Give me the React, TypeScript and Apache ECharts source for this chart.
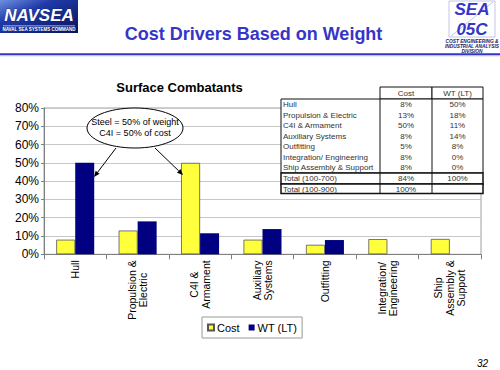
import React, { useEffect, useRef } from "react";
import * as echarts from "echarts";

const categories = [
  "Hull",
  "Propulsion &\nElectric",
  "C4I &\nArmament",
  "Auxiliary\nSystems",
  "Outfitting",
  "Integration/\nEngineering",
  "Ship\nAssembly &\nSupport",
];
const costValues = [8, 13, 50, 8, 5.2, 8.3, 8.4];
const wtValues = [50, 18, 11.5, 13.8, 7.8, 0, 0];
const yTicks = { min: 0, max: 80, interval: 10 };

const tableLabels = [
  "Hull",
  "Propulsion & Electric",
  "C4I & Armament",
  "Auxiliary Systems",
  "Outfitting",
  "Integration/ Engineering",
  "Ship Assembly & Support",
];
const tableCost = ["8%", "13%", "50%", "8%", "5%", "8%", "8%"];
const tableWT = ["50%", "18%", "11%", "14%", "8%", "0%", "0%"];
const tableHeaders = ["Cost", "WT (LT)"];
const totalRows = [
  ["Total (100-700)", "84%", "100%"],
  ["Total (100-900)", "100%", ""],
];

const FONT = "'Liberation Sans', Arial, Helvetica, sans-serif";
const BLUE = "#3535c8";

function buildTable(): any[] {
  const els: any[] = [];
  const x0 = 281, x1 = 380, x2 = 432, x3 = 483;
  const yH = 87, yB = 99, rowH = 10.5;
  const yT1 = yB + rowH * 7 + 0.5;
  const yT2 = yT1 + 11;
  const yEnd = yT2 + 9.5;
  const stroke = { stroke: "#111", lineWidth: 1 };
  const txt = (x: number, y: number, t: string, align: string) => ({
    type: "text", x, y,
    style: { text: t, font: `8px ${FONT}`, fill: "#333", align, verticalAlign: "middle" },
  });
  els.push({ type: "rect", shape: { x: x1, y: yH, width: x2 - x1, height: yB - yH }, style: { fill: "#fff", ...stroke } });
  els.push({ type: "rect", shape: { x: x2, y: yH, width: x3 - x2, height: yB - yH }, style: { fill: "#fff", ...stroke } });
  els.push(txt((x1 + x2) / 2, (yH + yB) / 2, tableHeaders[0], "center"));
  els.push(txt((x2 + x3) / 2, (yH + yB) / 2, tableHeaders[1], "center"));
  els.push({ type: "rect", shape: { x: x0, y: yB, width: x3 - x0, height: yT1 - yB }, style: { fill: "#fff", ...stroke } });
  tableLabels.forEach((lab, i) => {
    const cy = yB + rowH * i + rowH / 2 + 0.3;
    els.push(txt(x0 + 2, cy, lab, "left"));
    els.push(txt((x1 + x2) / 2, cy, tableCost[i], "center"));
    els.push(txt((x2 + x3) / 2, cy, tableWT[i], "center"));
  });
  els.push({ type: "rect", shape: { x: x0, y: yT1, width: x3 - x0, height: yT2 - yT1 }, style: { fill: "#fff", stroke: "#111", lineWidth: 1.5 } });
  els.push({ type: "rect", shape: { x: x0, y: yT2, width: x3 - x0, height: yEnd - yT2 }, style: { fill: "#fff", stroke: "#111", lineWidth: 1.5 } });
  els.push({ type: "line", shape: { x1: x1, y1: yB, x2: x1, y2: yEnd }, style: stroke });
  els.push({ type: "line", shape: { x1: x2, y1: yB, x2: x2, y2: yEnd }, style: stroke });
  totalRows.forEach((row, i) => {
    const cy = i === 0 ? (yT1 + yT2) / 2 + 0.3 : (yT2 + yEnd) / 2 + 0.3;
    els.push(txt(x0 + 2, cy, row[0], "left"));
    els.push(txt((x1 + x2) / 2, cy, row[1], "center"));
    if (row[2]) els.push(txt((x2 + x3) / 2, cy, row[2], "center"));
  });
  return els;
}

function arrow(fx: number, fy: number, tx: number, ty: number): any[] {
  const dx = tx - fx, dy = ty - fy;
  const len = Math.sqrt(dx * dx + dy * dy);
  const ux = dx / len, uy = dy / len;
  const bx = tx - ux * 6, by = ty - uy * 6;
  const px = -uy * 2.5, py = ux * 2.5;
  return [
    { type: "line", shape: { x1: fx, y1: fy, x2: bx, y2: by }, style: { stroke: "#000", lineWidth: 1 }, z: 100 },
    { type: "polygon", shape: { points: [[tx, ty], [bx + px, by + py], [bx - px, by - py]] }, style: { fill: "#000" }, z: 100 },
  ];
}

export default function App() {
  const ref = useRef<HTMLDivElement>(null);
  useEffect(() => {
    if (!ref.current) return;
    const chart = echarts.init(ref.current, null, { renderer: "svg" });
    const option: any = {
      animation: false,
      backgroundColor: "#fff",
      textStyle: { fontFamily: FONT },
      grid: {
        left: 44,
        right: 19,
        top: 108,
        bottom: 115.7,
        show: true,
        borderColor: "#a0a0a0",
        borderWidth: 1,
      },
      legend: {
        data: ["Cost", "WT (LT)"],
        left: 202,
        top: 317,
        icon: "rect",
        itemWidth: 6,
        itemHeight: 6,
        itemGap: 9,
        padding: [5, 5, 5, 5],
        borderColor: "#999",
        borderWidth: 1,
        textStyle: { fontSize: 11, color: "#000", fontFamily: FONT, padding: [0, 0, 0, -2] },
      },
      xAxis: {
        type: "category",
        data: categories,
        axisLine: { lineStyle: { color: "#808080" } },
        axisTick: { show: true, length: 5, lineStyle: { color: "#808080" } },
        axisLabel: {
          rotate: 90,
          margin: 6,
          interval: 0,
          color: "#000",
          fontSize: 10.5,
          formatter: (v: string) => v.split("\n").map((s) => `{c|${s}}`).join("\n"),
          rich: { c: { align: "center", fontSize: 10.5, lineHeight: 11.5, color: "#000", fontFamily: FONT } },
        },
      },
      yAxis: {
        type: "value",
        min: yTicks.min,
        max: yTicks.max,
        interval: yTicks.interval,
        axisLine: { show: true, lineStyle: { color: "#808080" } },
        axisTick: { show: true, length: 3, lineStyle: { color: "#808080" } },
        axisLabel: { formatter: "{value}%", color: "#000", fontSize: 12, margin: 5, fontFamily: FONT },
        splitLine: { lineStyle: { color: "#c8c8c8" } },
      },
      series: [
        {
          name: "Cost",
          type: "bar",
          data: costValues,
          barWidth: 19,
          barGap: "0%",
          itemStyle: { color: "#ffff3c", borderColor: "#555", borderWidth: 0.8 },
        },
        {
          name: "WT (LT)",
          type: "bar",
          data: wtValues,
          barWidth: 19,
          itemStyle: { color: "#000080", borderWidth: 0 },
        },
      ],
      graphic: [
        {
          type: "rect",
          shape: { x: 0, y: 0, width: 78, height: 33 },
          style: {
            fill: new echarts.graphic.LinearGradient(0, 0, 1, 1, [
              { offset: 0, color: "#6f8fe0" },
              { offset: 0.35, color: "#1f3aa8" },
              { offset: 1, color: "#07145a" },
            ]),
          },
        },
        {
          type: "text",
          x: 39,
          y: 15,
          style: { text: "NAVSEA", font: `italic bold 17px ${FONT}`, fill: "#fff", align: "center", verticalAlign: "middle", stroke: "#0a1a6a", lineWidth: 0.5 },
        },
        { type: "rect", shape: { x: 3, y: 25.5, width: 72, height: 0.8 }, style: { fill: "#cfd8ff" } },
        {
          type: "text",
          x: 39,
          y: 29.5,
          style: { text: "NAVAL SEA SYSTEMS COMMAND", font: `bold 4.5px ${FONT}`, fill: "#fff", align: "center", verticalAlign: "middle" },
        },
        { type: "rect", shape: { x: 449, y: 1, width: 46, height: 36 }, style: { fill: "none", stroke: "#9aa0d8", lineWidth: 0.6 } },
        { type: "line", shape: { x1: 451, y1: 36, x2: 493, y2: 2 }, style: { stroke: "#9aa0d8", lineWidth: 0.6 } },
        { type: "text", x: 472, y: 9.5, style: { text: "SEA", font: `italic bold 17px ${FONT}`, fill: BLUE, align: "center", verticalAlign: "middle" } },
        { type: "text", x: 472, y: 29, style: { text: "05C", font: `italic bold 17px ${FONT}`, fill: BLUE, align: "center", verticalAlign: "middle" } },
        { type: "text", x: 472, y: 41.5, style: { text: "COST ENGINEERING &", font: `italic bold 4.8px ${FONT}`, fill: "#1a1a6a", align: "center", verticalAlign: "middle" } },
        { type: "text", x: 472, y: 46.5, style: { text: "INDUSTRIAL ANALYSIS", font: `italic bold 4.8px ${FONT}`, fill: "#1a1a6a", align: "center", verticalAlign: "middle" } },
        { type: "text", x: 472, y: 51.5, style: { text: "DIVISION", font: `italic bold 4.8px ${FONT}`, fill: "#1a1a6a", align: "center", verticalAlign: "middle" } },
        { type: "text", x: 253.5, y: 34, style: { text: "Cost Drivers Based on Weight", font: `bold 18px ${FONT}`, fill: BLUE, align: "center", verticalAlign: "middle" } },
        { type: "rect", shape: { x: 0, y: 53.3, width: 500, height: 2 }, style: { fill: BLUE } },
        { type: "rect", shape: { x: 0, y: 55.3, width: 500, height: 1 }, style: { fill: "#b8b8ec" } },
        { type: "text", x: 179.5, y: 87, style: { text: "Surface Combatants", font: `bold 13px ${FONT}`, fill: "#000", align: "center", verticalAlign: "middle" } },
        { type: "ellipse", shape: { cx: 135, cy: 128, rx: 48, ry: 20 }, style: { fill: "#fff", stroke: "#000", lineWidth: 1 }, z: 100 },
        { type: "text", x: 135, y: 122, style: { text: "Steel = 50% of weight", font: `9px ${FONT}`, fill: "#000", align: "center", verticalAlign: "middle" }, z: 101 },
        { type: "text", x: 135, y: 132.5, style: { text: "C4I = 50% of cost", font: `9px ${FONT}`, fill: "#000", align: "center", verticalAlign: "middle" }, z: 101 },
        ...arrow(116, 148, 94, 177),
        ...arrow(155, 148, 183, 175),
        ...buildTable().map((e) => ({ ...e, z: 100 })),
        { type: "text", x: 488, y: 363, style: { text: "32", font: `italic 10px ${FONT}`, fill: "#000", align: "right", verticalAlign: "middle" } },
      ],
    };
    chart.setOption(option);
    return () => chart.dispose();
  }, []);
  return (
    <div
      ref={ref}
      style={{ position: "fixed", left: 0, top: 0, width: 500, height: 370, background: "#fff" }}
    />
  );
}
